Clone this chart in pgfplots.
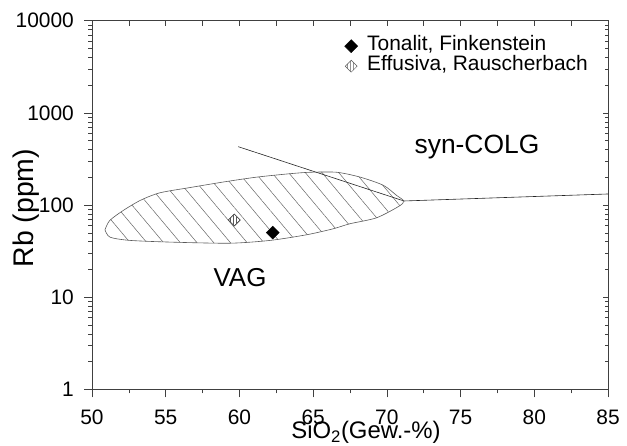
\documentclass[border=0pt]{standalone}
\usepackage{fontspec}
\setmainfont{Liberation Sans}
\usepackage{pgfplots}
\pgfplotsset{compat=1.18}
\usetikzlibrary{patterns,patterns.meta}
\begin{document}
\begin{tikzpicture}[x=1bp,y=1bp]
\useasboundingbox (0,0) rectangle (627,446);
% top / right inward ticks
\begin{axis}[ymode=log, scale only axis, width=516bp, height=368.8bp,
  at={(92bp,56.5bp)}, anchor=south west, xmin=50, xmax=85, ymin=1, ymax=10000,
  tick style={black!75, line width=0.6bp},
  minor ytick={2,3,4,5,6,7,8,9,20,30,40,50,60,70,80,90,200,300,400,500,600,700,800,900,2000,3000,4000,5000,6000,7000,8000,9000},
  axis line style={draw=none},
  xtick={50,52.5,...,85}, xtick pos=right, xtick align=inside,
  ytick={1,10,100,1000,10000}, ytick pos=right, ytick align=inside,
  xticklabels={}, yticklabels={},
  major tick length=5bp, minor tick length=3bp]
\end{axis}
\begin{axis}[ymode=log, scale only axis, width=516bp, height=368.8bp,
  at={(92bp,56.5bp)}, anchor=south west, xmin=50, xmax=85, ymin=1, ymax=10000,
  tick style={black!75, line width=0.6bp},
  minor ytick={2,3,4,5,6,7,8,9,20,30,40,50,60,70,80,90,200,300,400,500,600,700,800,900,2000,3000,4000,5000,6000,7000,8000,9000},
  minor xtick={52.5,57.5,...,82.5},
  axis line style={black!75, line width=0.6bp},
  xtick={50,55,...,85}, xticklabels={50,55,60,65,70,75,80,85},
  xtick pos=left, xtick align=outside,
  ytick={1,10,100,1000,10000}, yticklabels={1\hspace{18bp},10,100,1000,10000},
  ytick pos=left, ytick align=outside,
  major tick length=8bp, minor tick length=4bp,
  xticklabel style={font=\fontsize{21}{21}\selectfont, inner sep=0pt, anchor=north, yshift=-12bp},
  yticklabel style={font=\fontsize{21}{21}\selectfont, inner sep=0pt, anchor=east, xshift=-10bp},
  xlabel={SiO\textsubscript{2}(Gew.-\%)},
  ylabel={Rb (ppm)},
  every axis x label/.style={at={(axis description cs:0.531,-0.1342)}, anchor=base, inner sep=0pt,
     font=\fontsize{24}{24}\selectfont},
  every axis y label/.style={at={(axis description cs:-0.1008,0.492)}, rotate=90, anchor=south, inner sep=0pt,
     font=\fontsize{28.5}{28.5}\selectfont},
  legend style={at={(axis description cs:0.4884,0.9585)}, anchor=north west, draw=none, fill=none,
     inner sep=0pt, row sep=0pt, column sep=0pt, font=\fontsize{21}{21}\selectfont,
     nodes={inner xsep=1bp, inner ysep=0bp, text height=14bp, text depth=6bp}},
  legend image code/.code={\draw[#1] plot coordinates {(0bp,0bp)};
     \path[draw=none, fill=none, pattern=none] (-7bp,-6bp) (15bp,6bp);},
  legend cell align=left,
  clip=false]
\addplot[forget plot, draw=black!65, line width=0.6bp, smooth, tension=0.45,
  pattern={Lines[angle=-50,distance=12.8bp,line width=0.5bp]}, pattern color=black!60]
  coordinates {(50.88,54) (51.22,44.9) (52.58,41.4) (55.52,39.6) (59.36,38.6) (62.08,41.4)
  (64.57,47.7) (66.37,55.4) (67.5,62.8) (69.32,73) (70.9,99) (71.12,112) (70.67,127)
  (69.76,164) (68.19,201) (66.6,227) (64.79,227) (63.43,219) (61.17,201) (58.91,178)
  (56.65,155) (54.61,136) (53.3,113) (52.12,87.5) (51.2,68) (50.88,54)};
\addplot[forget plot, black!85, line width=0.6bp] coordinates {(59.92,430) (71.16,110.8) (85,132)};
\addplot[only marks, mark=square*, mark size=4.6bp, mark options={rotate=45, fill=black, draw=black}]
  coordinates {(62.26,50.2)};
\addlegendentry{Tonalit, Finkenstein}
\addplot[forget plot, only marks, mark=square*, mark size=4.2bp, mark options={rotate=45, fill=white, draw=none}]
  coordinates {(59.65,68.9)};
\addplot[only marks, mark=square*, mark size=4.2bp, mark options={rotate=45, draw=black!65, line width=0.5bp, pattern=vertical lines, pattern color=black!65}]
  coordinates {(59.65,68.9)};
\addlegendentry{Effusiva, Rauscherbach}
\node[font=\fontsize{26.5}{26.5}\selectfont] at (axis cs:76.11,427) {syn-COLG};
\node[font=\fontsize{26}{26}\selectfont] at (axis cs:60.04,16.2) {VAG};
\end{axis}
\end{tikzpicture}
\end{document}
